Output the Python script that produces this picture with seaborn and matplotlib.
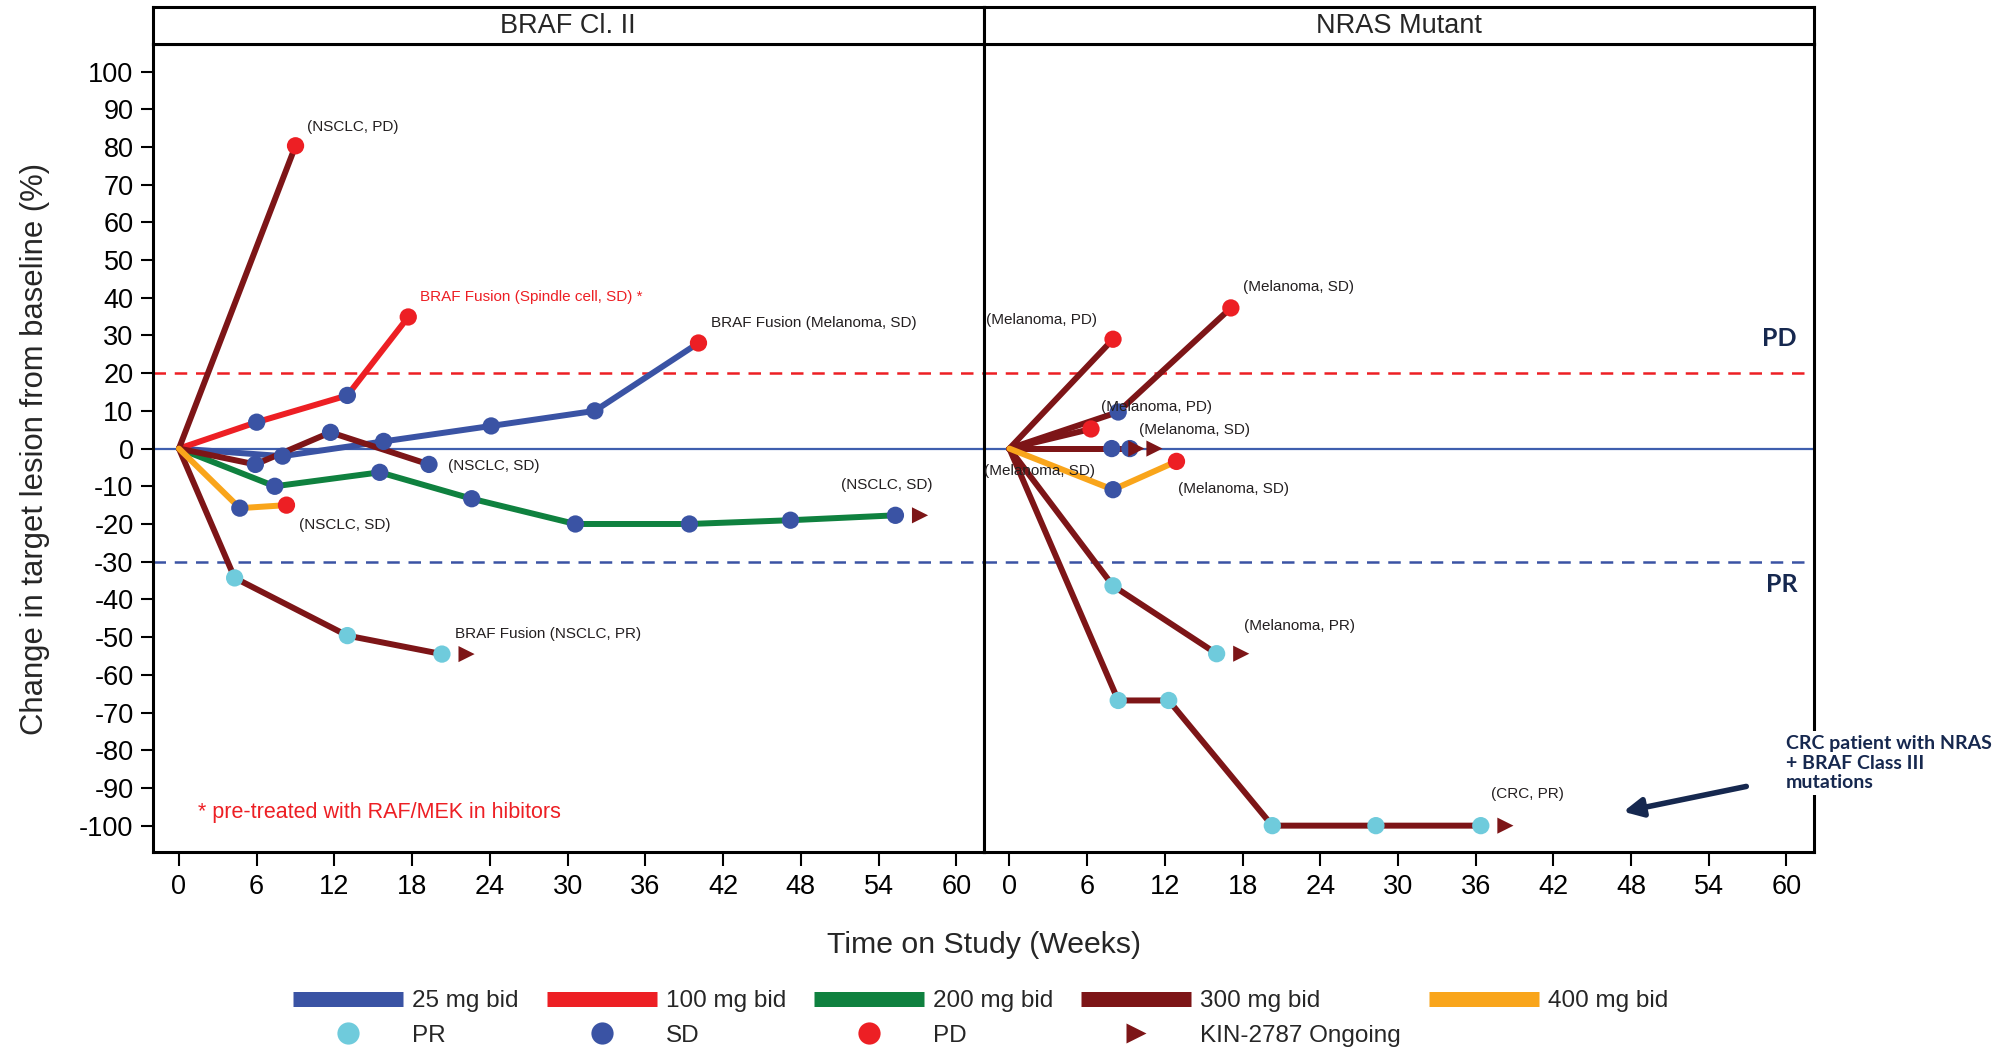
import numpy as np
import pandas as pd
import matplotlib
matplotlib.use("Agg")
import matplotlib.pyplot as plt
import seaborn as sns
from matplotlib.lines import Line2D

sns.set_theme(style="white")
plt.rcParams["font.family"] = ["Liberation Sans", "DejaVu Sans"]
plt.rcParams["axes.unicode_minus"] = False

# ---------------- data ----------------
DOSES = ["25 mg bid", "100 mg bid", "200 mg bid", "300 mg bid", "400 mg bid"]
DOSE_COLORS = ["#3a53a4", "#ed1f24", "#0f813f", "#7d1517", "#f9a51b"]
RESPONSES = ["PR", "SD", "PD"]
RESP_COLORS = ["#6fcbdc", "#3a53a4", "#ed1f24"]
ONGOING_COLOR = "#7d1517"
NAVY = "#16284f"

# Left panel: BRAF Cl. II  (one row per assessment)
braf_pid = [1, 1,
            2, 2, 2, 2,
            3, 3, 3, 3, 3, 3,
            4, 4, 4, 4,
            5, 5, 5, 5, 5, 5, 5, 5,
            6, 6, 6,
            7, 7, 7, 7]
braf_week = [0, 9.0,
             0, 6.0, 13.0, 17.7,
             0, 8.0, 15.8, 24.1, 32.1, 40.1,
             0, 5.9, 11.7, 19.3,
             0, 7.4, 15.5, 22.6, 30.6, 39.4, 47.2, 55.3,
             0, 4.7, 8.3,
             0, 4.3, 13.0, 20.3]
braf_pct = [0, 80.3,
            0, 7.0, 14.1, 34.9,
            0, -2.0, 1.9, 6.0, 10.0, 28.0,
            0, -4.2, 4.3, -4.2,
            0, -10.0, -6.3, -13.3, -20.0, -20.0, -19.0, -17.7,
            0, -15.8, -15.0,
            0, -34.3, -49.6, -54.5]
braf_resp = ["", "PD",
             "", "SD", "SD", "PD",
             "", "SD", "SD", "SD", "SD", "PD",
             "", "SD", "SD", "SD",
             "", "SD", "SD", "SD", "SD", "SD", "SD", "SD",
             "", "SD", "PD",
             "", "PR", "PR", "PR"]
braf_dose = ["300 mg bid", "100 mg bid", "25 mg bid", "300 mg bid",
             "200 mg bid", "400 mg bid", "300 mg bid"]
braf_ongoing = [False, False, False, False, True, False, True]
braf_labels = ["(NSCLC, PD)", "BRAF Fusion (Spindle cell, SD) *",
               "BRAF Fusion (Melanoma, SD)", "(NSCLC, SD)", "(NSCLC, SD)",
               "(NSCLC, SD)", "BRAF Fusion (NSCLC, PR)"]
braf_label_x = [9.9, 18.6, 41.1, 20.8, 51.1, 9.3, 21.3]
braf_label_y = [85.3, 40.2, 33.2, -4.6, -9.6, -20.2, -49.2]
braf_label_color = ["#231f20", "#ed1f24", "#231f20", "#231f20",
                    "#231f20", "#231f20", "#231f20"]

# Right panel: NRAS Mutant
nras_pid = [1, 1,
            2, 2, 2,
            3, 3,
            4, 4,
            5, 5,
            6, 6, 6,
            7, 7, 7,
            8, 8, 8, 8, 8, 8]
nras_week = [0, 8.0,
             0, 8.4, 17.1,
             0, 6.3,
             0, 7.9,
             0, 9.3,
             0, 8.0, 12.9,
             0, 8.0, 16.0,
             0, 8.4, 12.3, 20.3, 28.3, 36.4]
nras_pct = [0, 29.0,
            0, 9.7, 37.3,
            0, 5.2,
            0, 0.0,
            0, 0.0,
            0, -10.9, -3.4,
            0, -36.4, -54.4,
            0, -66.8, -66.8, -100.0, -100.0, -100.0]
nras_resp = ["", "PD",
             "", "SD", "PD",
             "", "PD",
             "", "SD",
             "", "SD",
             "", "SD", "PD",
             "", "PR", "PR",
             "", "PR", "PR", "PR", "PR", "PR"]
nras_dose = ["300 mg bid", "300 mg bid", "300 mg bid", "300 mg bid",
             "300 mg bid", "400 mg bid", "300 mg bid", "300 mg bid"]
nras_ongoing = [False, False, False, True, True, False, True, True]
nras_labels = ["(Melanoma, PD)", "(Melanoma, SD)", "(Melanoma, PD)",
               "(Melanoma, SD)", "(Melanoma, SD)", "(Melanoma, SD)",
               "(Melanoma, PR)", "(CRC, PR)"]
nras_label_x = [-1.8, 18.0, 7.1, 10.0, -2.0, 13.0, 18.1, 37.2]
nras_label_y = [34.0, 42.9, 11.0, 4.9, -5.9, -10.7, -47.0, -91.5]

PD_THRESHOLD = 20
PR_THRESHOLD = -30
X_TICKS = list(range(0, 61, 6))
Y_TICKS = list(range(-100, 101, 10))


def build(pid, week, pct, resp, dose):
    df = pd.DataFrame({"pid": pid, "week": week, "pct": pct, "resp": resp})
    df["dose"] = [dose[p - 1] for p in df["pid"]]
    return df


def draw_panel(ax, df, ongoing, labels, lx, ly, lcolors):
    ax.axhline(PD_THRESHOLD, color="#ed1f24", lw=1.8, ls=(0, (5, 3.5)), zorder=1)
    ax.axhline(PR_THRESHOLD, color="#3a53a4", lw=1.8, ls=(0, (5, 3.5)), zorder=1)
    ax.axhline(0, color="#3f5fae", lw=1.6, zorder=1)
    sns.lineplot(data=df, x="week", y="pct", hue="dose", hue_order=DOSES,
                 palette=DOSE_COLORS, units="pid", estimator=None, sort=False,
                 lw=4.3, legend=False, ax=ax, zorder=2)
    pts = df[df["resp"] != ""]
    sns.scatterplot(data=pts, x="week", y="pct", hue="resp", hue_order=RESPONSES,
                    palette=RESP_COLORS, s=155, linewidth=0, edgecolor="none",
                    legend=False, ax=ax, zorder=4)
    last = df.groupby("pid").tail(1).copy()
    last = last[[ongoing[p - 1] for p in last["pid"]]]
    last["week"] = last["week"] + 1.9
    sns.scatterplot(data=last, x="week", y="pct", marker=">", color=ONGOING_COLOR,
                    s=135, linewidth=0, edgecolor="none", legend=False, ax=ax, zorder=4)
    for t, x, y, c in zip(labels, lx, ly, lcolors):
        ax.text(x, y, t, ha="left", va="center", fontsize=11, color=c, zorder=6)
    ax.set_xlim(-2, 62.1)
    ax.set_ylim(-107, 107.2)
    ax.set_xticks(X_TICKS)
    ax.set_xlabel("")
    ax.set_ylabel("")
    for s in ax.spines.values():
        s.set_color("black")
        s.set_linewidth(2.2)
    ax.tick_params(axis="x", direction="out", length=10, width=1.5, pad=6,
                   labelsize=19.5, colors="black", bottom=True)


df_braf = build(braf_pid, braf_week, braf_pct, braf_resp, braf_dose)
df_nras = build(nras_pid, nras_week, nras_pct, nras_resp, nras_dose)

fig = plt.figure(figsize=(20.08, 10.51), dpi=100)
axL = fig.add_axes([0.0762, 0.1893, 0.4136, 0.7685])
axR = fig.add_axes([0.4898, 0.1893, 0.4134, 0.7685])

draw_panel(axL, df_braf, braf_ongoing, braf_labels, braf_label_x, braf_label_y,
           braf_label_color)
draw_panel(axR, df_nras, nras_ongoing, nras_labels, nras_label_x, nras_label_y,
           ["#231f20"] * len(nras_labels))

axL.set_yticks(Y_TICKS)
axL.tick_params(axis="y", direction="out", length=9, width=1.5, pad=5,
                labelsize=19.5, colors="black", left=True)
axR.set_yticks([])

axL.text(1.5, -96.6, "* pre-treated with RAF/MEK in hibitors", color="#ed1f24",
         fontsize=15.5, ha="left", va="center")

# PD / PR markers and CRC callout
axR.text(60.8, 29.3, "PD", ha="right", va="center", fontsize=18,
         fontweight="bold", color=NAVY, family=["Lato", "DejaVu Sans"])
axR.text(60.9, -36.0, "PR", ha="right", va="center", fontsize=18,
         fontweight="bold", color=NAVY, family=["Lato", "DejaVu Sans"])
axR.annotate("", xy=(47.4, -96.3), xytext=(56.9, -89.6),
             arrowprops=dict(arrowstyle="-|>", lw=4, color=NAVY,
                             mutation_scale=28, shrinkA=0, shrinkB=0))
fig.text(0.8895, 0.274, "CRC patient with NRAS\n+ BRAF Class III\nmutations",
         ha="left", va="center", fontsize=14, fontweight="bold", color=NAVY,
         family=["Lato", "DejaVu Sans"], linespacing=1.15, zorder=10,
         bbox=dict(facecolor="white", edgecolor="none", pad=3))

# header strips
for left, width, title in [(0.0762, 0.4136, "BRAF Cl. II"),
                           (0.4898, 0.4134, "NRAS Mutant")]:
    st = fig.add_axes([left, 0.9578, width, 0.0358])
    st.set_xticks([])
    st.set_yticks([])
    for s in st.spines.values():
        s.set_color("black")
        s.set_linewidth(2.2)
    st.text(0.5, 0.5, title, ha="center", va="center", fontsize=19.5,
            transform=st.transAxes)

fig.text(0.0175, 0.573, "Change in target lesion from baseline (%)", rotation=90,
         ha="center", va="center", fontsize=22.3)
fig.text(0.4898, 0.1009, "Time on Study (Weeks)", ha="center", va="center",
         fontsize=21.8)

# legend (column-major order)
dose_h = [Line2D([], [], color=c, lw=10.8, solid_capstyle="butt") for c in DOSE_COLORS]
resp_h = [Line2D([], [], ls="none", marker="o", ms=16, mfc=c, mec="none")
          for c in RESP_COLORS]
ong_h = Line2D([], [], ls="none", marker=">", ms=14, mfc=ONGOING_COLOR, mec="none")
handles = [dose_h[0], resp_h[0], dose_h[1], resp_h[1], dose_h[2], resp_h[2],
           dose_h[3], ong_h, dose_h[4]]
labels = [DOSES[0], "PR", DOSES[1], "SD", DOSES[2], "PD", DOSES[3],
          "KIN-2787 Ongoing", DOSES[4]]
fig.legend(handles, labels, ncol=5, loc="center left",
           bbox_to_anchor=(0.1459, 0.031), frameon=False, fontsize=17.5,
           handlelength=4.53, handletextpad=0.37, columnspacing=1.15,
           labelspacing=0.5, borderpad=0, borderaxespad=0)

fig.savefig("out.png", dpi=100)
